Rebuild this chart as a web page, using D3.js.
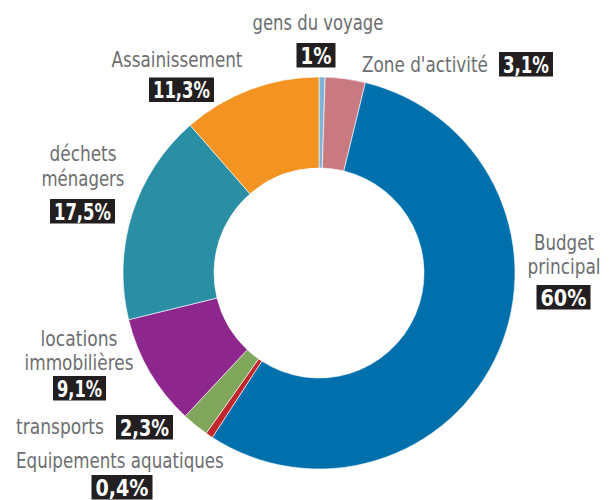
<!DOCTYPE html>
<html><head><meta charset="utf-8">
<script src="https://cdn.jsdelivr.net/npm/d3@7"></script>
<style>
body{margin:0;background:#fff;}
svg{display:block;}
.lbl{font-family:"DejaVu Sans",sans-serif;fill:#6d6e71;font-size:22px;}
.pct{font-family:"DejaVu Sans",sans-serif;fill:#fff;font-size:23px;font-weight:bold;}
</style>
</head><body>
<script>
// Data
const categories = ["gens du voyage","Zone d'activité","Budget principal","Equipements aquatiques","transports","locations immobilières","déchets ménagers","Assainissement"];
const values = [0.5, 3.3, 55.3, 0.6, 2.2, 9.2, 17.4, 11.4];
const valueLabels = ["1%","3,1%","60%","0,4%","2,3%","9,1%","17,5%","11,3%"];
const colors = ["#7fb2d6","#c97a80","#0070ad","#c0262c","#7fa65a","#8e278d","#2a8ea4","#f39321"];

// Label layout (separate from data): text lines, baselines, widths, box placement
const layout = [
  {lines:["gens du voyage"], anchor:"middle", x:318, ys:[30], ws:[131], box:{cx:316, y:43, w:39}},
  {lines:["Zone d'activité"], anchor:"start", x:362, ys:[72], ws:[126], box:{cx:526, y:52, w:54}},
  {lines:["Budget","principal"], anchor:"middle", x:564, ys:[249.5,273.5], ws:[60,73], box:{cx:563.5, y:285, w:54}},
  {lines:["Equipements aquatiques"], anchor:"start", x:16, ys:[468], ws:[208], box:{cx:122, y:475, w:61}},
  {lines:["transports"], anchor:"start", x:16, ys:[434], ws:[88], box:{cx:144.5, y:415, w:57}},
  {lines:["locations","immobilières"], anchor:"middle", x:79, ys:[346,370], ws:[77,109], box:{cx:79.5, y:376, w:53}},
  {lines:["déchets","ménagers"], anchor:"middle", x:83, ys:[161,186], ws:[67,83], box:{cx:82.5, y:199, w:65}},
  {lines:["Assainissement"], anchor:"middle", x:177, ys:[66.5], ws:[131], box:{cx:181.5, y:77.5, w:65}}
];

const W=614,H=500, cx=319, cy=273, rOut=196, rIn=105, boxH=24.5;
const svg=d3.select("body").append("svg").attr("width",W).attr("height",H);

const pie=d3.pie().sort(null).value(d=>d)(values);
const arc=d3.arc().innerRadius(rIn).outerRadius(rOut);
const color=d3.scaleOrdinal().domain(categories).range(colors);

svg.append("g").attr("transform",`translate(${cx},${cy})`)
  .selectAll("path").data(pie).join("path")
  .attr("d",arc).attr("fill",(d,i)=>color(categories[i]))
  .attr("stroke","#fff").attr("stroke-width",0.6);

// place text so that it has the given width, by horizontal scaling
function fitText(sel, cls, str, x, y, w, anchor){
  const t=sel.append("text").attr("class",cls).attr("text-anchor","start").text(str);
  const len=t.node().getComputedTextLength();
  const k=w/len;
  const left = anchor==="middle" ? x-w/2 : x;
  t.attr("transform",`translate(${left},${y}) scale(${k},1)`);
  return t;
}

const g=svg.append("g");
layout.forEach((L,i)=>{
  L.lines.forEach((t,j)=>fitText(g,"lbl",t,L.x,L.ys[j],L.ws[j],L.anchor));
  g.append("rect").attr("fill","#231f20")
    .attr("x",L.box.cx-L.box.w/2).attr("y",L.box.y).attr("width",L.box.w).attr("height",boxH);
  fitText(g,"pct",valueLabels[i],L.box.cx,L.box.y+boxH/2+8.5,L.box.w-8,"middle");
});
</script>
</body></html>
